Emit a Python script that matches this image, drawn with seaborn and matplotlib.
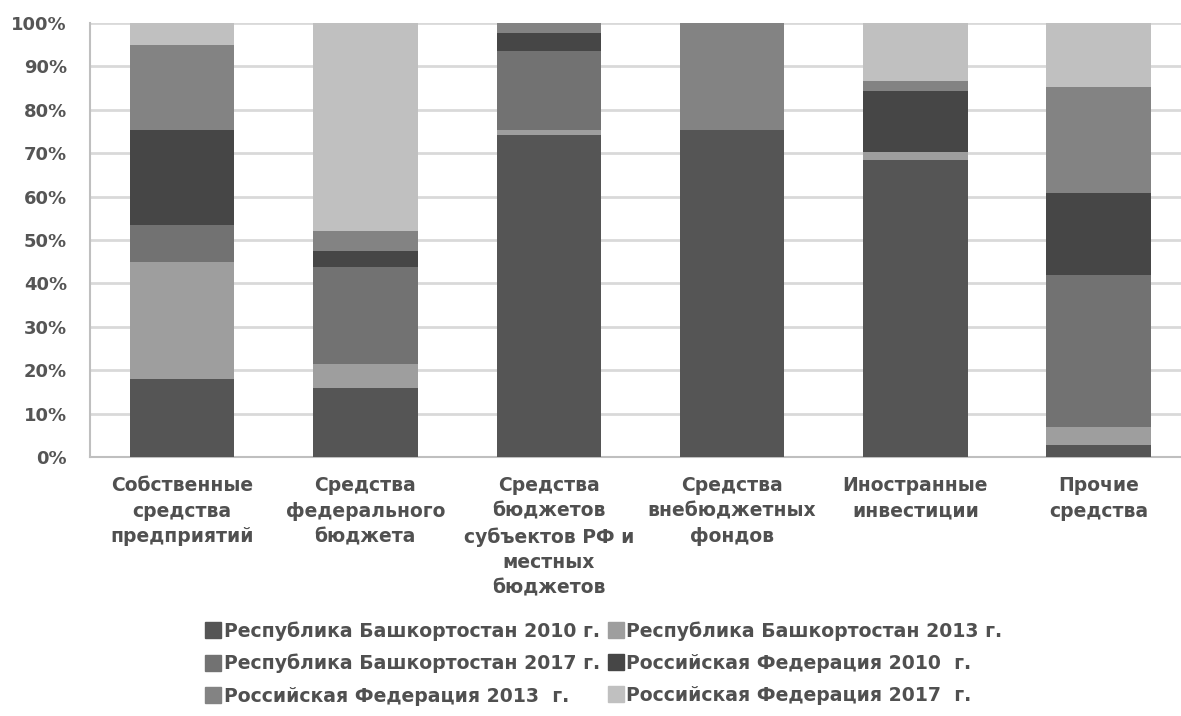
import numpy as np
import pandas as pd
import matplotlib
matplotlib.use("Agg")
import matplotlib.pyplot as plt
from matplotlib.lines import Line2D
from matplotlib.ticker import PercentFormatter
import seaborn as sns

# ================= DATA =================
CATEGORIES = [
    "Собственные\nсредства\nпредприятий",
    "Средства\nфедерального\nбюджета",
    "Средства\nбюджетов\nсубъектов РФ и\nместных\nбюджетов",
    "Средства\nвнебюджетных\nфондов",
    "Иностранные\nинвестиции",
    "Прочие\nсредства",
]

SERIES = [
    "Республика Башкортостан 2010 г.",
    "Республика Башкортостан 2013 г.",
    "Республика Башкортостан 2017 г.",
    "Российская Федерация 2010  г.",
    "Российская Федерация 2013  г.",
    "Российская Федерация 2017  г.",
]

bash_2010 = [17.9, 15.8, 74.1, 75.3, 68.5, 2.7]
bash_2013 = [27.0, 5.7, 1.3, 0.0, 1.8, 4.2]
bash_2017 = [8.5, 22.3, 18.1, 0.0, 0.0, 35.0]
rf_2010 = [21.9, 3.7, 4.1, 0.0, 14.0, 18.9]
rf_2013 = [19.6, 4.6, 2.4, 24.7, 2.3, 24.5]
rf_2017 = [5.1, 47.9, 0.0, 0.0, 13.4, 14.7]

COLORS = ["#555555", "#9e9e9e", "#727272", "#464646", "#838383", "#c0c0c0"]
# ========================================

TEXT_COLOR = "#505050"


def main():
    sns.set_theme(style="white")
    plt.rcParams["font.family"] = ["DejaVu Sans"]

    values = [bash_2010, bash_2013, bash_2017, rf_2010, rf_2013, rf_2017]
    df = pd.DataFrame(np.array(values).T, columns=SERIES)
    df.insert(0, "category", CATEGORIES)

    fig = plt.figure(figsize=(11.81, 7.16), dpi=100)
    ax = fig.add_axes([0.0766, 0.3617, 0.9234, 0.6062])

    bottom = np.zeros(len(CATEGORIES))
    for name, color in zip(SERIES, COLORS):
        sns.barplot(
            data=df, x="category", y=name, bottom=bottom,
            color=color, width=0.57, linewidth=0, ax=ax,
            saturation=1, zorder=3,
        )
        bottom = bottom + df[name].to_numpy()

    ax.set_xlim(-0.5, 5.449)
    ax.set_ylim(0, 100)
    ax.set_yticks(range(0, 101, 10))
    ax.yaxis.set_major_formatter(PercentFormatter(decimals=0))
    ax.grid(axis="y", color="#d9d9d9", linewidth=2, zorder=0)
    ax.set_xlabel("")
    ax.set_ylabel("")

    for side in ["top", "right"]:
        ax.spines[side].set_visible(False)
    for side in ["left", "bottom"]:
        ax.spines[side].set_color("#bfbfbf")
        ax.spines[side].set_linewidth(1.5)

    ax.tick_params(axis="y", length=0, pad=17, labelsize=13,
                   labelcolor="#555555")
    ax.tick_params(axis="x", length=0, pad=14)
    for lab in ax.get_yticklabels():
        lab.set_fontweight("bold")
    ax.set_xticks(range(len(CATEGORIES)))
    ax.set_xticklabels(CATEGORIES, fontsize=13.5, fontweight="bold",
                       color=TEXT_COLOR, linespacing=1.42, va="top")

    # legend: row-wise order as in the original
    order = [0, 2, 4, 1, 3, 5]
    handles = [
        Line2D([], [], marker="s", linestyle="", markersize=11.5,
               color=COLORS[i], label=SERIES[i])
        for i in order
    ]
    leg = fig.legend(
        handles=handles, ncol=2, loc="upper left",
        bbox_to_anchor=(0.1735, 0.1327), frameon=False,
        borderpad=0, borderaxespad=0,
        handlelength=0.85, handletextpad=0.15, columnspacing=0.4,
        labelspacing=0.7, fontsize=13.6,
    )
    for t in leg.get_texts():
        t.set_color(TEXT_COLOR)
        t.set_fontweight("bold")

    fig.savefig("out.png", dpi=100)
    plt.close(fig)


if __name__ == "__main__":
    main()
